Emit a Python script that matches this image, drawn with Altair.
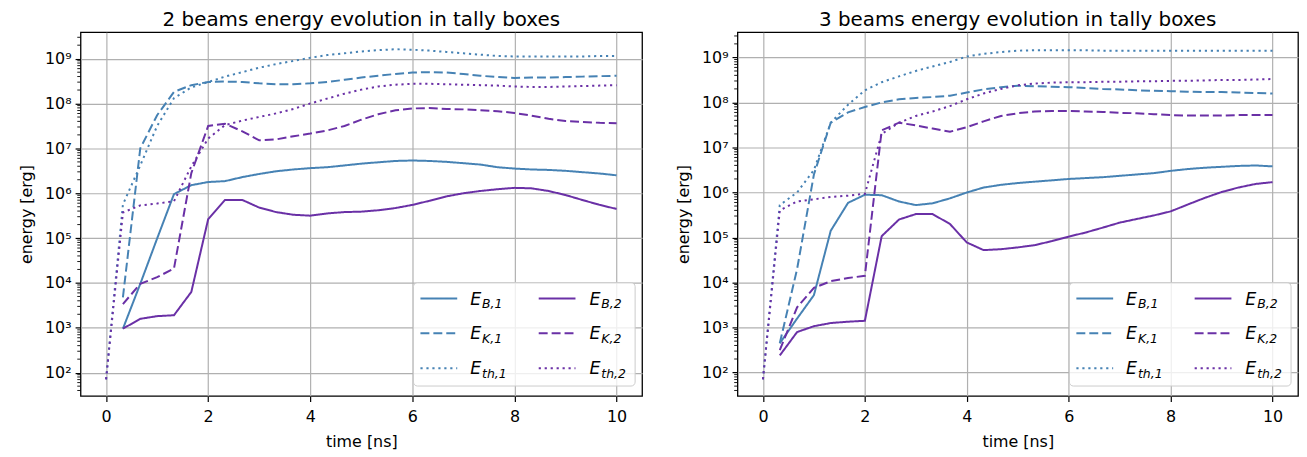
import altair as alt
import pandas as pd

# ---------------- data (log10 of energy in erg) -------------
time_ns = [0.0, 0.33, 0.67, 1.0, 1.33, 1.67, 2.0, 2.33, 2.67, 3.0, 3.33, 3.67, 4.0,
           4.33, 4.67, 5.0, 5.33, 5.67, 6.0, 6.33, 6.67, 7.0, 7.33, 7.67, 8.0, 8.33,
           8.67, 9.0, 9.33, 9.67, 10.0]

series_names = ["B,1", "K,1", "th,1", "B,2", "K,2", "th,2"]
series_colors = ["#4682b4", "#4682b4", "#4682b4", "#6a30a6", "#6a30a6", "#6a30a6"]

# 2 beams
b2_EB1 = [None, 2.98, 3.98, 4.99, 5.98, 6.18, 6.25, 6.27, 6.36, 6.43, 6.49, 6.53, 6.56,
          6.58, 6.62, 6.66, 6.69, 6.72, 6.73, 6.72, 6.70, 6.67, 6.64, 6.58, 6.55, 6.53,
          6.52, 6.50, 6.47, 6.44, 6.40]
b2_EK1 = [None, 3.68, 7.0, 7.74, 8.26, 8.41, 8.48, 8.49, 8.48, 8.45, 8.43, 8.43, 8.45,
          8.48, 8.53, 8.58, 8.62, 8.66, 8.69, 8.70, 8.69, 8.66, 8.62, 8.59, 8.57, 8.58,
          8.58, 8.59, 8.60, 8.61, 8.62]
b2_Eth1 = [1.85, 5.75, 6.62, 7.5, 8.12, 8.36, 8.48, 8.6, 8.7, 8.8, 8.88, 8.95, 9.02,
           9.08, 9.12, 9.16, 9.19, 9.21, 9.2, 9.18, 9.15, 9.12, 9.09, 9.06, 9.05, 9.05,
           9.05, 9.05, 9.05, 9.06, 9.06]
b2_EB2 = [None, 2.98, 3.2, 3.26, 3.28, 3.8, 5.42, 5.85, 5.85, 5.68, 5.58, 5.52, 5.5,
          5.55, 5.58, 5.59, 5.62, 5.67, 5.74, 5.83, 5.93, 6.0, 6.05, 6.09, 6.12, 6.11,
          6.05, 5.96, 5.85, 5.74, 5.65]
b2_EK2 = [None, 3.53, 3.98, 4.13, 4.32, 6.45, 7.5, 7.55, 7.38, 7.18, 7.2, 7.27, 7.33,
          7.4, 7.5, 7.64, 7.76, 7.85, 7.89, 7.9, 7.88, 7.87, 7.85, 7.83, 7.79, 7.73,
          7.66, 7.61, 7.59, 7.57, 7.56]
b2_Eth2 = [1.85, 5.57, 5.73, 5.77, 5.82, 6.6, 7.22, 7.52, 7.62, 7.7, 7.78, 7.88, 8.0,
           8.11, 8.22, 8.31, 8.38, 8.42, 8.44, 8.44, 8.43, 8.42, 8.41, 8.40, 8.38, 8.37,
           8.37, 8.38, 8.39, 8.4, 8.41]

# 3 beams
b3_EB1 = [None, 2.65, 3.2, 3.72, 5.15, 5.77, 5.95, 5.94, 5.8, 5.72, 5.76, 5.87, 6.0,
          6.11, 6.17, 6.21, 6.24, 6.27, 6.3, 6.32, 6.34, 6.37, 6.4, 6.43, 6.48, 6.52,
          6.55, 6.57, 6.59, 6.6, 6.58]
b3_EK1 = [None, 2.65, 4.3, 6.4, 7.55, 7.78, 7.9, 8.0, 8.07, 8.1, 8.12, 8.15, 8.22,
          8.29, 8.34, 8.37, 8.36, 8.35, 8.34, 8.32, 8.3, 8.29, 8.27, 8.26, 8.25, 8.24,
          8.23, 8.23, 8.22, 8.21, 8.2]
b3_Eth1 = [1.85, 5.72, 6.0, 6.5, 7.55, 7.95, 8.27, 8.45, 8.58, 8.7, 8.8, 8.9, 9.02,
           9.08, 9.12, 9.15, 9.16, 9.16, 9.16, 9.16, 9.15, 9.15, 9.15, 9.15, 9.15, 9.15,
           9.15, 9.15, 9.15, 9.15, 9.15]
b3_EB2 = [None, 2.38, 2.9, 3.03, 3.1, 3.13, 3.15, 5.03, 5.4, 5.52, 5.52, 5.3, 4.89,
          4.72, 4.74, 4.78, 4.83, 4.92, 5.02, 5.11, 5.22, 5.33, 5.41, 5.49, 5.58, 5.73,
          5.88, 6.01, 6.11, 6.19, 6.23]
b3_EK2 = [None, 2.5, 3.45, 3.88, 4.03, 4.1, 4.15, 7.38, 7.55, 7.49, 7.42, 7.35, 7.45,
          7.58, 7.7, 7.76, 7.8, 7.81, 7.81, 7.8, 7.79, 7.77, 7.76, 7.74, 7.72, 7.71,
          7.71, 7.71, 7.72, 7.72, 7.72]
b3_Eth2 = [1.85, 5.6, 5.8, 5.85, 5.9, 5.93, 5.97, 7.3, 7.55, 7.7, 7.8, 7.92, 8.07,
           8.2, 8.3, 8.38, 8.42, 8.44, 8.45, 8.45, 8.46, 8.46, 8.47, 8.47, 8.48, 8.48,
           8.49, 8.5, 8.5, 8.51, 8.52]

x_ticks = [0, 2, 4, 6, 8, 10]
y_ticks = [1e2, 1e3, 1e4, 1e5, 1e6, 1e7, 1e8, 1e9]

# ---------------- styling ----------------
FONT = "DejaVu Sans"
H = 366
LW = 2.0
DASHES = [[1, 0], [9, 4], [2.2, 3.8]]
GRID = "#b0b0b0"

minor_vals = [m * 10 ** k for k in range(1, 10) for m in range(2, 10)]

sup_expr = ("'10' + (round(log(datum.value)/LN10)==2 ? '²' : round(log(datum.value)/LN10)==3 ? '³' : "
            "round(log(datum.value)/LN10)==4 ? '⁴' : round(log(datum.value)/LN10)==5 ? '⁵' : "
            "round(log(datum.value)/LN10)==6 ? '⁶' : round(log(datum.value)/LN10)==7 ? '⁷' : "
            "round(log(datum.value)/LN10)==8 ? '⁸' : '⁹')")

xaxis = alt.Axis(values=x_ticks, title="time [ns]", grid=True, gridColor=GRID, gridWidth=1.2,
                 tickSize=5.5, tickColor="black", tickWidth=1.2, domain=False,
                 labelFontSize=16, titleFontSize=16, labelColor="black", titleColor="black",
                 labelPadding=7, titlePadding=9, titleFontWeight="normal", format="d",
                 labelFont=FONT, titleFont=FONT)
yaxis = alt.Axis(values=y_ticks, title="energy [erg]", grid=True, gridColor=GRID, gridWidth=1.2,
                 tickSize=5.5, tickColor="black", tickWidth=1.2, domain=False,
                 labelFontSize=16, titleFontSize=16, labelColor="black", titleColor="black",
                 labelPadding=4, titlePadding=10, titleFontWeight="normal", labelExpr=sup_expr,
                 labelFont=FONT, titleFont=FONT)


def panel(title, logs, ylo, yhi, width):
    rows = []
    for name, vals in zip(series_names, logs):
        for t, v in zip(time_ns, vals):
            if v is not None:
                rows.append({"t": t, "E": 10 ** v, "s": name})
    df = pd.DataFrame(rows)
    xs = alt.Scale(domain=[-0.5, 10.5], nice=False, zero=False)
    ys = alt.Scale(type="log", domain=[ylo, yhi], nice=False)
    layers = []
    base = alt.Chart(df)
    for i, name in enumerate(series_names):
        layers.append(
            base.transform_filter(alt.datum.s == name).mark_line(
                color=series_colors[i], strokeDash=DASHES[i % 3], strokeWidth=LW, clip=True
            ).encode(
                x=alt.X("t:Q", scale=xs, axis=xaxis),
                y=alt.Y("E:Q", scale=ys, axis=yaxis),
            )
        )
    # minor ticks on y axis
    layers.append(
        alt.Chart(pd.DataFrame({"m": [v for v in minor_vals if ylo <= v <= yhi]})).mark_rule(
            color="black", strokeWidth=0.9
        ).encode(y=alt.Y("m:Q", scale=ys, axis=yaxis), x=alt.value(0), x2=alt.value(-3.3))
    )
    # legend
    one = alt.Chart(pd.DataFrame({"a": [0]}))
    layers.append(one.mark_rect(fill="white", fillOpacity=0.8, stroke="#cccccc", strokeWidth=1,
                                cornerRadius=4).encode(
        x=alt.value(width - 230), x2=alt.value(width - 7), y=alt.value(H - 114), y2=alt.value(H - 10)))
    row_y = [H - 98, H - 63, H - 28]
    col_sym = [(width - 223, width - 186), (width - 104, width - 67)]
    col_txt = [width - 173, width - 53]
    for i, name in enumerate(series_names):
        c, r = i // 3, i % 3
        layers.append(one.mark_rule(color=series_colors[i], strokeDash=DASHES[r], strokeWidth=LW).encode(
            x=alt.value(col_sym[c][0]), x2=alt.value(col_sym[c][1]), y=alt.value(row_y[r])))
        layers.append(one.mark_text(text="E", font=FONT, fontStyle="italic", fontSize=17.5, align="left",
                                    baseline="alphabetic", color="black").encode(
            x=alt.value(col_txt[c]), y=alt.value(row_y[r] + 6)))
        layers.append(one.mark_text(text=name, font=FONT, fontStyle="italic", fontSize=12.5, align="left",
                                    baseline="alphabetic", color="black").encode(
            x=alt.value(col_txt[c] + 12), y=alt.value(row_y[r] + 9.5)))
    return alt.layer(*layers).properties(
        width=width, height=H,
        title=alt.TitleParams(title, fontSize=20, font=FONT, fontWeight="normal", anchor="middle",
                              color="black", offset=2),
    )


left = panel("2 beams energy evolution in tally boxes",
             [b2_EB1, b2_EK1, b2_Eth1, b2_EB2, b2_EK2, b2_Eth2], 10 ** 1.48, 10 ** 9.59, 565)
right = panel("3 beams energy evolution in tally boxes",
              [b3_EB1, b3_EK1, b3_Eth1, b3_EB2, b3_EK2, b3_Eth2], 10 ** 1.48, 10 ** 9.56, 564)

chart = alt.hconcat(left, right, spacing=32).properties(
    padding={"left": 10, "top": 0, "right": 0, "bottom": 0}
).configure(font=FONT).configure_view(stroke="black", strokeWidth=1.3)

chart.save("out.html", embed_options={"renderer": "svg", "actions": False})
